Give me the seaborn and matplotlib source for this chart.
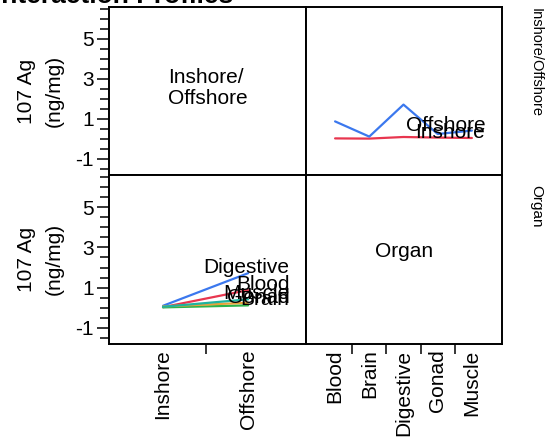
import matplotlib
matplotlib.use("Agg")
import matplotlib.pyplot as plt
import matplotlib.transforms as mtransforms
import numpy as np
import pandas as pd
import seaborn as sns

# values (107 Ag, ng/mg)
organs = ["Blood", "Brain", "Digestive", "Gonad", "Muscle"]
locations = ["Inshore", "Offshore"]
inshore_ag = [0.03, 0.02, 0.10, 0.07, 0.05]
offshore_ag = [0.88, 0.12, 1.72, 0.25, 0.42]

loc_colors = {"Inshore": "#E8364F", "Offshore": "#3B78EE"}
organ_colors = {"Blood": "#E8364F", "Brain": "#2DB34A", "Digestive": "#3B78EE",
                "Gonad": "#E8A23A", "Muscle": "#1FB39E"}

rows = []
for loc, vals in zip(locations, [inshore_ag, offshore_ag]):
    for org, v in zip(organs, vals):
        rows.append({"Location": loc, "Organ": org, "Ag": v})
df = pd.DataFrame(rows)

sns.set_style("white")
plt.rcParams["font.family"] = ["Liberation Sans", "DejaVu Sans"]
plt.rcParams["text.color"] = "black"
plt.rcParams["xtick.color"] = "black"
plt.rcParams["ytick.color"] = "black"
plt.rcParams["axes.labelcolor"] = "black"

W, H = 548, 437
fig = plt.figure(figsize=(W / 100, H / 100), dpi=100)

def px_axes(x0, x1, ytop, ybot):
    return fig.add_axes([x0 / W, (H - ybot) / H, (x1 - x0) / W, (ybot - ytop) / H])

ax_tl = px_axes(109, 306, 7, 175)
ax_tr = px_axes(306, 502, 7, 175)
ax_bl = px_axes(109, 306, 175, 344)
ax_br = px_axes(306, 502, 175, 344)

fs = 15
ylim = (-1.8, 6.6)

# top right: organ on x, lines by location
sns.lineplot(data=df, x="Organ", y="Ag", hue="Location", palette=loc_colors,
             sort=False, legend=False, linewidth=1.6, ax=ax_tr)
# bottom left: location on x, lines by organ
sns.lineplot(data=df, x="Location", y="Ag", hue="Organ", palette=organ_colors,
             sort=False, legend=False, linewidth=1.6, ax=ax_bl)

# end-of-line labels, right aligned near panel edge
tr = mtransforms.blended_transform_factory(ax_tr.transAxes, ax_tr.transData)
for loc, vals in zip(locations, [inshore_ag, offshore_ag]):
    ax_tr.text(0.915, vals[-1], loc, transform=tr, ha="right", va="baseline", fontsize=fs)
tb = mtransforms.blended_transform_factory(ax_bl.transAxes, ax_bl.transData)
for i, org in enumerate(organs):
    ax_bl.text(0.915, offshore_ag[i], org, transform=tb, ha="right", va="baseline", fontsize=fs)

ax_tl.text(0.5, 0.52, "Inshore/\nOffshore", transform=ax_tl.transAxes,
           ha="center", va="center", multialignment="left", fontsize=fs, linespacing=1.15)
ax_br.text(0.5, 0.55, "Organ", transform=ax_br.transAxes,
           ha="center", va="center", fontsize=fs)

ax_tl.set_xlim(0, 1)
ax_br.set_ylim(0, 1)
ax_bl.set_xlim(-0.635, 1.68)
ax_br.set_xlim(-0.85, 4.88)
ax_tr.set_xlim(-0.85, 4.88)

for ax in [ax_tl, ax_tr, ax_bl, ax_br]:
    for s in ax.spines.values():
        s.set_visible(True)
        s.set_linewidth(1.4)
        s.set_color("black")
    ax.set_xlabel("")
    ax.set_ylabel("")
    ax.tick_params(which="both", left=False, bottom=False, labelleft=False, labelbottom=False)

for ax in [ax_tl, ax_bl]:
    ax.set_ylim(*ylim)
    ax.set_yticks([-1, 1, 3, 5])
    ax.set_yticklabels(["-1", "1", "3", "5"])
    ax.set_yticks(np.arange(-1.5, 6.6, 0.5), minor=True)
    ax.tick_params(axis="y", which="major", left=True, labelleft=True, length=9,
                   width=1.1, pad=2, labelsize=fs, direction="out")
    ax.tick_params(axis="y", which="minor", left=True, length=6.5, width=1.1, direction="out")
ax_tr.set_ylim(*ylim)

# x axes: ticks at category boundaries, labels at categories
ax_bl.set_xticks([0.5])
ax_bl.set_xticklabels([""])
ax_bl.set_xticks([0, 1], minor=True)
ax_bl.set_xticklabels(locations, minor=True, rotation=90)
ax_br.set_xticks([0.5, 1.5, 2.5, 3.5])
ax_br.set_xticklabels([""] * 4)
ax_br.set_xticks(range(len(organs)), minor=True)
ax_br.set_xticklabels(organs, minor=True, rotation=90)
for ax in [ax_bl, ax_br]:
    ax.tick_params(axis="x", which="major", bottom=True, length=7, width=1.1, direction="out")
    ax.tick_params(axis="x", which="minor", bottom=True, labelbottom=True, length=0,
                   pad=4, labelsize=fs)

# row / axis titles
for yc in [91, 259]:
    fig.text(26 / W, 1 - yc / H, "107 Ag", rotation=90, ha="center", va="center", fontsize=fs)
    fig.text(54 / W, 1 - yc / H, "(ng/mg)", rotation=90, ha="center", va="center", fontsize=fs)
fig.text(536 / W, 1 - 8 / H, "Inshore/Offshore", rotation=270, ha="center", va="top", fontsize=10.5)
fig.text(536 / W, 1 - 185 / H, "Organ", rotation=270, ha="center", va="top", fontsize=11)

fig.text(233 / W, 1 - 3 / H, "Interaction Profiles", ha="right", va="baseline",
         fontsize=19, fontweight="bold")

fig.savefig("out.png", dpi=100)
